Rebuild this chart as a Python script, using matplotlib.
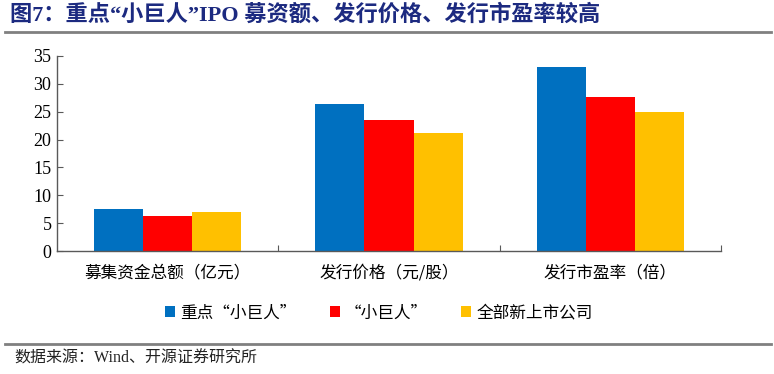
import matplotlib
matplotlib.use("Agg")
import matplotlib.pyplot as plt
from matplotlib.patches import Patch
from matplotlib.lines import Line2D
import numpy as np

plt.rcParams['font.family'] = ['Noto Sans CJK SC', 'DejaVu Sans']

categories = ["募集资金总额（亿元）", "发行价格（元/股）", "发行市盈率（倍）"]
series_names = ["重点“小巨人”", "“小巨人”", "全部新上市公司"]
key_little_giants = [7.5, 26.3, 33.0]
little_giants = [6.2, 23.5, 27.6]
all_new_listed = [7.0, 21.1, 25.0]
colors = ["#0070C0", "#FF0000", "#FFC000"]
yticks = [0, 5, 10, 15, 20, 25, 30, 35]

W, H = 774, 374
fig = plt.figure(figsize=(W / 100, H / 100), dpi=100)
ax = fig.add_axes([57 / W, 1 - 251 / H, (721 - 57) / W, (251 - 56) / H])

x = np.arange(len(categories)) + 0.5
bw = 0.222
for i, (vals, c) in enumerate(zip([key_little_giants, little_giants, all_new_listed], colors)):
    ax.bar(x + (i - 1) * bw, vals, width=bw, color=c, label=series_names[i], zorder=2)

ax.set_xlim(0, 3)
ax.set_ylim(0, 35)
ax.set_yticks(yticks)
ax.set_yticklabels([str(t) for t in yticks], fontfamily='Liberation Serif', fontsize=13)
ax.set_xticks([1, 2, 3])
ax.set_xticklabels([])
ax.set_xticks(x, minor=True)
ax.set_xticklabels(categories, minor=True, fontsize=12)
ax.tick_params(axis='x', which='minor', length=0, pad=10)
ax.tick_params(axis='x', which='major', direction='in', length=4, color='#595959')
ax.tick_params(axis='y', direction='in', length=4, color='#595959', pad=4)
for s in ['top', 'right']:
    ax.spines[s].set_visible(False)
for s in ['left', 'bottom']:
    ax.spines[s].set_color('#595959')
    ax.spines[s].set_linewidth(1.0)

handles = [Patch(facecolor=c, edgecolor='none') for c in colors]
fig.legend(handles, series_names, loc='center', bbox_to_anchor=(379 / W, 1 - 313 / H),
           ncol=3, frameon=False, fontsize=12, handlelength=0.6, handleheight=0.6,
           handletextpad=0.3, columnspacing=2.0)

# Title and rules
fig.text(10 / W, 1 - 15 / H, "图7：重点“小巨人”IPO 募资额、发行价格、发行市盈率较高",
         fontsize=16, fontweight='bold', color='#1C2A80', va='center', ha='left',
         family=['Liberation Serif', 'Noto Sans CJK SC'])
fig.add_artist(Line2D([5 / W, 771 / W], [1 - 32 / H, 1 - 32 / H], color='#808080', linewidth=2))
fig.add_artist(Line2D([5 / W, 771 / W], [1 - 344 / H, 1 - 344 / H], color='#808080', linewidth=2))
fig.text(14 / W, 1 - 359 / H, "数据来源：Wind、开源证券研究所", fontsize=11.5, color='#222222',
         va='center', ha='left', family=['Liberation Serif', 'Noto Sans CJK SC'])

fig.savefig("out.png", dpi=100)
